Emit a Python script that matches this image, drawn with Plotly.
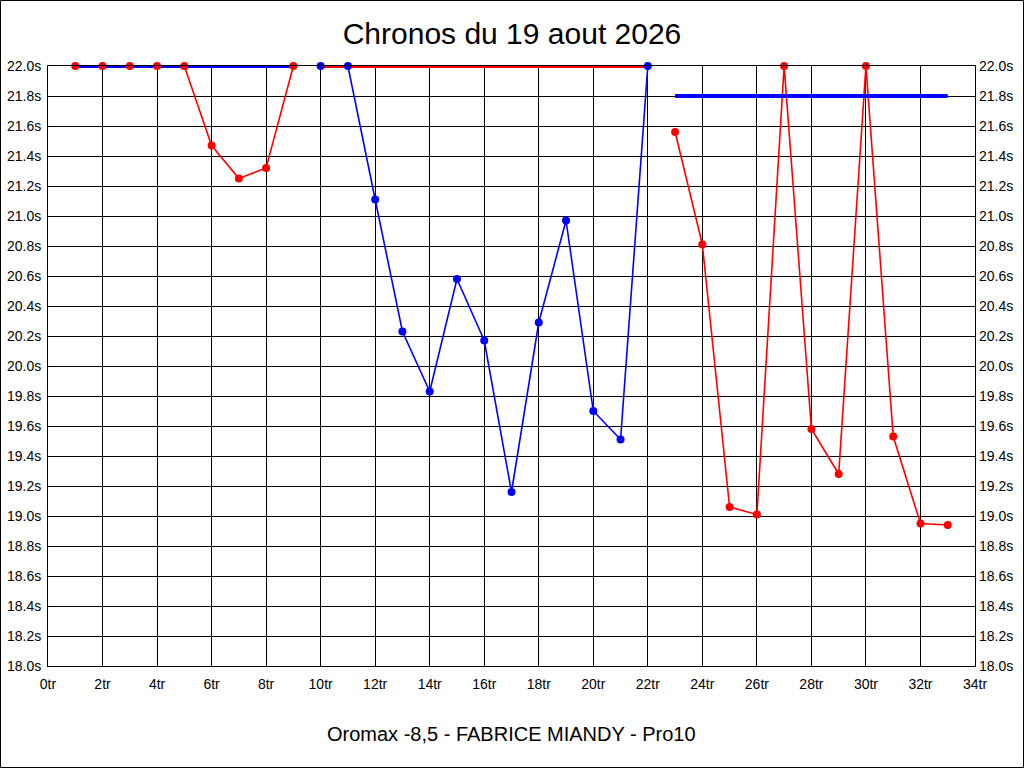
import plotly.graph_objects as go

# chronos par tour (s), trois series
tours_1 = [1, 2, 3, 4, 5, 6, 7, 8, 9]
chronos_1 = [22.0, 22.0, 22.0, 22.0, 22.0, 21.47, 21.25, 21.32, 22.0]

tours_2 = [10, 11, 12, 13, 14, 15, 16, 17, 18, 19, 20, 21, 22]
chronos_2 = [22.0, 22.0, 21.11, 20.23, 19.83, 20.58, 20.17, 19.16, 20.29, 20.97, 19.70, 19.51, 22.0]

tours_3 = [23, 24, 25, 26, 27, 28, 29, 30, 31, 32, 33]
chronos_3 = [21.56, 20.81, 19.06, 19.01, 22.0, 19.58, 19.28, 22.0, 19.53, 18.95, 18.94]

# niveau de reference par serie
references = [22.0, 22.0, 21.8]

series = [(tours_1, chronos_1, "red", "blue"),
          (tours_2, chronos_2, "blue", "red"),
          (tours_3, chronos_3, "red", "blue")]

FONT = "Liberation Sans, Arial, sans-serif"

fig = go.Figure()

# lignes des chronos
for tours, chronos, col, _ in series:
    fig.add_trace(go.Scatter(x=tours, y=chronos, mode="lines",
                             line=dict(color=col, width=1.6),
                             cliponaxis=False, hoverinfo="skip", showlegend=False))

# lignes de reference (par dessus)
for (tours, chronos, _, refcol), ref in zip(series, references):
    fig.add_trace(go.Scatter(x=[tours[0], tours[-1]], y=[ref, ref], mode="lines",
                             line=dict(color=refcol, width=4),
                             cliponaxis=False, hoverinfo="skip", showlegend=False))

# points
for tours, chronos, col, _ in series:
    fig.add_trace(go.Scatter(x=tours, y=chronos, mode="markers",
                             marker=dict(color=col, size=8),
                             cliponaxis=False, showlegend=False))

# trace invisible pour l'axe de droite
fig.add_trace(go.Scatter(x=[0], y=[18.0], yaxis="y2", mode="markers",
                         marker=dict(opacity=0), hoverinfo="skip", showlegend=False))

yax = dict(range=[18.0, 22.0], dtick=0.2, tick0=18.0, tickformat=".1f", ticksuffix="s",
           showgrid=True, gridcolor="black", gridwidth=1, zeroline=False,
           showline=True, linecolor="black", linewidth=1, mirror=True,
           ticks="", ticklabelstandoff=3, automargin=False,
           tickfont=dict(family=FONT, size=14, color="black"))

fig.update_layout(
    width=1024, height=768,
    margin=dict(l=48, r=49, t=66, b=102),
    paper_bgcolor="white", plot_bgcolor="white",
    title=dict(text="Chronos du 19 aout 2026", x=0.5, xanchor="center",
               y=1 - 33 / 768, yanchor="middle", yref="container",
               font=dict(family=FONT, size=30, color="black")),
    xaxis=dict(range=[0, 34], dtick=2, tick0=0, ticksuffix="tr",
               showgrid=True, gridcolor="black", gridwidth=1, zeroline=False,
               showline=True, linecolor="black", linewidth=1, mirror=True,
               ticks="", ticklabelstandoff=5, automargin=False,
               tickfont=dict(family=FONT, size=14, color="black")),
    yaxis=yax,
    yaxis2=dict(yax, overlaying="y", side="right", showgrid=False, showline=False),
    annotations=[dict(text="Oromax -8,5 - FABRICE MIANDY - Pro10",
                      xref="paper", yref="paper", x=0.5, y=(666 - 734) / 600,
                      xanchor="center", yanchor="middle", showarrow=False,
                      font=dict(family=FONT, size=20, color="black"))],
    shapes=[dict(type="rect", xref="paper", yref="paper",
                 x0=-47.5 / 927, x1=975.5 / 927, y0=-101.5 / 600, y1=1 + 65.5 / 600,
                 line=dict(color="black", width=1), layer="below")],
)

fig.write_html("out.html", config={"displayModeBar": False},
               post_script="document.body.style.margin='0';")
